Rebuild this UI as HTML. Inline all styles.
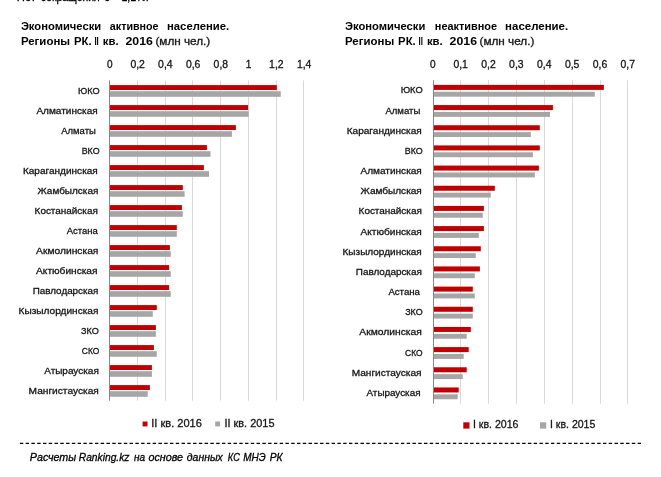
<!DOCTYPE html>
<html lang="ru"><head><meta charset="utf-8"><title>Экономически активное и неактивное население. Регионы РК</title>
<style>html,body{margin:0;padding:0;background:#fff;}body{width:661px;height:477px;overflow:hidden;}svg{display:block;}text{font-family:"Liberation Sans",sans-serif;fill:#141414;stroke:#141414;stroke-width:0.3px;}.b{font-weight:bold;fill:#000;stroke:none;}.i{font-style:italic;fill:#000;stroke:#000;}.k{fill:#000;stroke:#000;}</style></head><body>
<svg width="661" height="477" viewBox="0 0 661 477">
<rect width="661" height="477" fill="#fff"/>
<text x="16.8" y="1.0" font-size="12" textLength="19.2" lengthAdjust="spacingAndGlyphs" class="k">Нет</text>
<text x="40.7" y="1.0" font-size="12" textLength="59.1" lengthAdjust="spacingAndGlyphs" class="k">сокращения</text>
<text x="104.2" y="1.0" font-size="12" textLength="5.6" lengthAdjust="spacingAndGlyphs" class="k">с</text>
<text x="112.0" y="1.0" font-size="12" textLength="7.0" lengthAdjust="spacingAndGlyphs" class="k">—</text>
<text x="121.4" y="1.0" font-size="12" textLength="27.2" lengthAdjust="spacingAndGlyphs" class="k">1,1%.</text>
<text x="20.9" y="30.3" font-size="10.70" textLength="80.3" lengthAdjust="spacingAndGlyphs" class="b">Экономически</text>
<text x="109.8" y="30.3" font-size="10.70" textLength="48.8" lengthAdjust="spacingAndGlyphs" class="b">активное</text>
<text x="167.0" y="30.3" font-size="10.70" textLength="62.2" lengthAdjust="spacingAndGlyphs" class="b">население.</text>
<text x="20.9" y="45.4" font-size="10.70" textLength="49.2" lengthAdjust="spacingAndGlyphs" class="b">Регионы</text>
<text x="74.0" y="45.4" font-size="10.70" textLength="17.6" lengthAdjust="spacingAndGlyphs" class="b">РК.</text>
<text x="94.4" y="45.4" font-size="10.70" textLength="4.4" lengthAdjust="spacingAndGlyphs" class="b">II</text>
<text x="102.8" y="45.4" font-size="10.70" textLength="15.8" lengthAdjust="spacingAndGlyphs" class="b">кв.</text>
<text x="125.5" y="45.4" font-size="10.70" textLength="27.4" lengthAdjust="spacingAndGlyphs" class="b">2016</text>
<text x="155.4" y="45.4" font-size="10.70" textLength="54.9" lengthAdjust="spacingAndGlyphs">(млн чел.)</text>
<text x="345.0" y="30.3" font-size="10.70" textLength="80.3" lengthAdjust="spacingAndGlyphs" class="b">Экономически</text>
<text x="434.8" y="30.3" font-size="10.70" textLength="62.3" lengthAdjust="spacingAndGlyphs" class="b">неактивное</text>
<text x="505.1" y="30.3" font-size="10.70" textLength="63.1" lengthAdjust="spacingAndGlyphs" class="b">население.</text>
<text x="345.0" y="45.4" font-size="10.70" textLength="49.2" lengthAdjust="spacingAndGlyphs" class="b">Регионы</text>
<text x="398.1" y="45.4" font-size="10.70" textLength="17.6" lengthAdjust="spacingAndGlyphs" class="b">РК.</text>
<text x="418.5" y="45.4" font-size="10.70" textLength="4.4" lengthAdjust="spacingAndGlyphs" class="b">II</text>
<text x="426.9" y="45.4" font-size="10.70" textLength="15.8" lengthAdjust="spacingAndGlyphs" class="b">кв.</text>
<text x="449.6" y="45.4" font-size="10.70" textLength="27.4" lengthAdjust="spacingAndGlyphs" class="b">2016</text>
<text x="479.5" y="45.4" font-size="10.70" textLength="54.9" lengthAdjust="spacingAndGlyphs">(млн чел.)</text>
<rect x="137" y="80.40" width="1" height="320.30" fill="#D9D9D9"/>
<rect x="165" y="80.40" width="1" height="320.30" fill="#D9D9D9"/>
<rect x="192" y="80.40" width="1" height="320.30" fill="#D9D9D9"/>
<rect x="220" y="80.40" width="1" height="320.30" fill="#D9D9D9"/>
<rect x="248" y="80.40" width="1" height="320.30" fill="#D9D9D9"/>
<rect x="276" y="80.40" width="1" height="320.30" fill="#D9D9D9"/>
<rect x="303" y="80.40" width="1" height="320.30" fill="#D9D9D9"/>
<text x="107.0" y="67.6" font-size="10.50" textLength="5.6" lengthAdjust="spacingAndGlyphs">0</text>
<text x="130.4" y="67.6" font-size="10.50" textLength="14.5" lengthAdjust="spacingAndGlyphs">0,2</text>
<text x="158.1" y="67.6" font-size="10.50" textLength="14.5" lengthAdjust="spacingAndGlyphs">0,4</text>
<text x="185.9" y="67.6" font-size="10.50" textLength="14.5" lengthAdjust="spacingAndGlyphs">0,6</text>
<text x="213.6" y="67.6" font-size="10.50" textLength="14.5" lengthAdjust="spacingAndGlyphs">0,8</text>
<text x="245.8" y="67.6" font-size="10.50" textLength="5.6" lengthAdjust="spacingAndGlyphs">1</text>
<text x="269.1" y="67.6" font-size="10.50" textLength="14.5" lengthAdjust="spacingAndGlyphs">1,2</text>
<text x="296.9" y="67.6" font-size="10.50" textLength="14.5" lengthAdjust="spacingAndGlyphs">1,4</text>
<rect x="110.00" y="85.10" width="166.80" height="4.90" fill="#C00000"/>
<rect x="110.00" y="91.20" width="170.80" height="5.60" fill="#A6A6A6"/>
<text x="77.9" y="93.9" font-size="9.60" textLength="21.7" lengthAdjust="spacingAndGlyphs">ЮКО</text>
<rect x="110.00" y="105.10" width="138.10" height="4.90" fill="#C00000"/>
<rect x="110.00" y="111.20" width="138.60" height="5.60" fill="#A6A6A6"/>
<text x="36.4" y="113.9" font-size="9.60" textLength="61.3" lengthAdjust="spacingAndGlyphs">Алматинская</text>
<rect x="110.00" y="125.10" width="125.90" height="4.90" fill="#C00000"/>
<rect x="110.00" y="131.20" width="121.90" height="5.60" fill="#A6A6A6"/>
<text x="61.3" y="133.9" font-size="9.60" textLength="34.5" lengthAdjust="spacingAndGlyphs">Алматы</text>
<rect x="110.00" y="145.10" width="96.90" height="4.90" fill="#C00000"/>
<rect x="110.00" y="151.20" width="100.50" height="5.60" fill="#A6A6A6"/>
<text x="81.7" y="153.9" font-size="9.60" textLength="17.9" lengthAdjust="spacingAndGlyphs">ВКО</text>
<rect x="110.00" y="165.10" width="93.90" height="4.90" fill="#C00000"/>
<rect x="110.00" y="171.20" width="99.00" height="5.60" fill="#A6A6A6"/>
<text x="22.9" y="173.9" font-size="9.60" textLength="74.9" lengthAdjust="spacingAndGlyphs">Карагандинская</text>
<rect x="110.00" y="185.10" width="72.80" height="4.90" fill="#C00000"/>
<rect x="110.00" y="191.20" width="74.60" height="5.60" fill="#A6A6A6"/>
<text x="37.5" y="193.9" font-size="9.60" textLength="60.9" lengthAdjust="spacingAndGlyphs">Жамбылская</text>
<rect x="110.00" y="205.10" width="71.90" height="4.90" fill="#C00000"/>
<rect x="110.00" y="211.20" width="72.80" height="5.60" fill="#A6A6A6"/>
<text x="34.6" y="213.9" font-size="9.60" textLength="63.2" lengthAdjust="spacingAndGlyphs">Костанайская</text>
<rect x="110.00" y="225.10" width="66.80" height="4.90" fill="#C00000"/>
<rect x="110.00" y="231.20" width="66.80" height="5.60" fill="#A6A6A6"/>
<text x="66.7" y="233.9" font-size="9.60" textLength="31.1" lengthAdjust="spacingAndGlyphs">Астана</text>
<rect x="110.00" y="245.10" width="59.90" height="4.90" fill="#C00000"/>
<rect x="110.00" y="251.20" width="60.80" height="5.60" fill="#A6A6A6"/>
<text x="36.1" y="253.9" font-size="9.60" textLength="62.3" lengthAdjust="spacingAndGlyphs">Акмолинская</text>
<rect x="110.00" y="265.10" width="59.00" height="4.90" fill="#C00000"/>
<rect x="110.00" y="271.20" width="60.80" height="5.60" fill="#A6A6A6"/>
<text x="36.1" y="273.9" font-size="9.60" textLength="61.4" lengthAdjust="spacingAndGlyphs">Актюбинская</text>
<rect x="110.00" y="285.10" width="59.00" height="4.90" fill="#C00000"/>
<rect x="110.00" y="291.20" width="60.80" height="5.60" fill="#A6A6A6"/>
<text x="32.7" y="293.9" font-size="9.60" textLength="65.7" lengthAdjust="spacingAndGlyphs">Павлодарская</text>
<rect x="110.00" y="305.10" width="46.80" height="4.90" fill="#C00000"/>
<rect x="110.00" y="311.20" width="42.80" height="5.60" fill="#A6A6A6"/>
<text x="18.6" y="313.9" font-size="9.60" textLength="79.8" lengthAdjust="spacingAndGlyphs">Кызылординская</text>
<rect x="110.00" y="325.10" width="45.90" height="4.90" fill="#C00000"/>
<rect x="110.00" y="331.20" width="45.90" height="5.60" fill="#A6A6A6"/>
<text x="81.0" y="333.9" font-size="9.60" textLength="17.8" lengthAdjust="spacingAndGlyphs">ЗКО</text>
<rect x="110.00" y="345.10" width="43.90" height="4.90" fill="#C00000"/>
<rect x="110.00" y="351.20" width="46.80" height="5.60" fill="#A6A6A6"/>
<text x="81.8" y="353.9" font-size="9.60" textLength="17.5" lengthAdjust="spacingAndGlyphs">СКО</text>
<rect x="110.00" y="365.10" width="41.90" height="4.90" fill="#C00000"/>
<rect x="110.00" y="371.20" width="41.90" height="5.60" fill="#A6A6A6"/>
<text x="44.2" y="373.9" font-size="9.60" textLength="54.6" lengthAdjust="spacingAndGlyphs">Атырауская</text>
<rect x="110.00" y="385.10" width="39.90" height="4.90" fill="#C00000"/>
<rect x="110.00" y="391.20" width="37.70" height="5.60" fill="#A6A6A6"/>
<text x="28.6" y="393.9" font-size="9.60" textLength="70.2" lengthAdjust="spacingAndGlyphs">Мангистауская</text>
<rect x="109" y="80.40" width="1" height="320.30" fill="#878787"/>
<rect x="460" y="80.20" width="1" height="323.42" fill="#D9D9D9"/>
<rect x="488" y="80.20" width="1" height="323.42" fill="#D9D9D9"/>
<rect x="516" y="80.20" width="1" height="323.42" fill="#D9D9D9"/>
<rect x="544" y="80.20" width="1" height="323.42" fill="#D9D9D9"/>
<rect x="572" y="80.20" width="1" height="323.42" fill="#D9D9D9"/>
<rect x="600" y="80.20" width="1" height="323.42" fill="#D9D9D9"/>
<rect x="627" y="80.20" width="1" height="323.42" fill="#D9D9D9"/>
<text x="430.0" y="67.6" font-size="10.50" textLength="5.6" lengthAdjust="spacingAndGlyphs">0</text>
<text x="453.4" y="67.6" font-size="10.50" textLength="14.5" lengthAdjust="spacingAndGlyphs">0,1</text>
<text x="481.3" y="67.6" font-size="10.50" textLength="14.5" lengthAdjust="spacingAndGlyphs">0,2</text>
<text x="509.1" y="67.6" font-size="10.50" textLength="14.5" lengthAdjust="spacingAndGlyphs">0,3</text>
<text x="537.0" y="67.6" font-size="10.50" textLength="14.5" lengthAdjust="spacingAndGlyphs">0,4</text>
<text x="564.9" y="67.6" font-size="10.50" textLength="14.5" lengthAdjust="spacingAndGlyphs">0,5</text>
<text x="592.7" y="67.6" font-size="10.50" textLength="14.5" lengthAdjust="spacingAndGlyphs">0,6</text>
<text x="620.5" y="67.6" font-size="10.50" textLength="14.5" lengthAdjust="spacingAndGlyphs">0,7</text>
<rect x="434.00" y="84.90" width="169.90" height="5.00" fill="#C00000"/>
<rect x="434.00" y="91.80" width="160.80" height="4.90" fill="#A6A6A6"/>
<text x="400.7" y="93.4" font-size="9.60" textLength="22.0" lengthAdjust="spacingAndGlyphs">ЮКО</text>
<rect x="434.00" y="105.07" width="118.90" height="5.00" fill="#C00000"/>
<rect x="434.00" y="111.97" width="116.00" height="4.90" fill="#A6A6A6"/>
<text x="385.4" y="113.6" font-size="9.60" textLength="34.9" lengthAdjust="spacingAndGlyphs">Алматы</text>
<rect x="434.00" y="125.24" width="105.80" height="5.00" fill="#C00000"/>
<rect x="434.00" y="132.14" width="96.90" height="4.90" fill="#A6A6A6"/>
<text x="346.7" y="133.7" font-size="9.60" textLength="75.1" lengthAdjust="spacingAndGlyphs">Карагандинская</text>
<rect x="434.00" y="145.41" width="105.80" height="5.00" fill="#C00000"/>
<rect x="434.00" y="152.31" width="98.90" height="4.90" fill="#A6A6A6"/>
<text x="404.8" y="153.9" font-size="9.60" textLength="17.9" lengthAdjust="spacingAndGlyphs">ВКО</text>
<rect x="434.00" y="165.58" width="104.90" height="5.00" fill="#C00000"/>
<rect x="434.00" y="172.48" width="100.90" height="4.90" fill="#A6A6A6"/>
<text x="360.5" y="174.1" font-size="9.60" textLength="61.3" lengthAdjust="spacingAndGlyphs">Алматинская</text>
<rect x="434.00" y="185.75" width="60.80" height="5.00" fill="#C00000"/>
<rect x="434.00" y="192.65" width="56.80" height="4.90" fill="#A6A6A6"/>
<text x="360.5" y="194.2" font-size="9.60" textLength="61.3" lengthAdjust="spacingAndGlyphs">Жамбылская</text>
<rect x="434.00" y="205.92" width="49.90" height="5.00" fill="#C00000"/>
<rect x="434.00" y="212.82" width="48.80" height="4.90" fill="#A6A6A6"/>
<text x="358.6" y="214.4" font-size="9.60" textLength="63.2" lengthAdjust="spacingAndGlyphs">Костанайская</text>
<rect x="434.00" y="226.09" width="49.90" height="5.00" fill="#C00000"/>
<rect x="434.00" y="232.99" width="44.80" height="4.90" fill="#A6A6A6"/>
<text x="360.5" y="234.6" font-size="9.60" textLength="61.3" lengthAdjust="spacingAndGlyphs">Актюбинская</text>
<rect x="434.00" y="246.26" width="46.80" height="5.00" fill="#C00000"/>
<rect x="434.00" y="253.16" width="41.80" height="4.90" fill="#A6A6A6"/>
<text x="342.5" y="254.7" font-size="9.60" textLength="79.3" lengthAdjust="spacingAndGlyphs">Кызылординская</text>
<rect x="434.00" y="266.43" width="45.90" height="5.00" fill="#C00000"/>
<rect x="434.00" y="273.33" width="40.80" height="4.90" fill="#A6A6A6"/>
<text x="355.8" y="274.9" font-size="9.60" textLength="66.0" lengthAdjust="spacingAndGlyphs">Павлодарская</text>
<rect x="434.00" y="286.60" width="38.80" height="5.00" fill="#C00000"/>
<rect x="434.00" y="293.50" width="40.80" height="4.90" fill="#A6A6A6"/>
<text x="388.4" y="295.1" font-size="9.60" textLength="31.5" lengthAdjust="spacingAndGlyphs">Астана</text>
<rect x="434.00" y="306.77" width="38.80" height="5.00" fill="#C00000"/>
<rect x="434.00" y="313.67" width="38.80" height="4.90" fill="#A6A6A6"/>
<text x="405.2" y="315.3" font-size="9.60" textLength="17.5" lengthAdjust="spacingAndGlyphs">ЗКО</text>
<rect x="434.00" y="326.94" width="36.80" height="5.00" fill="#C00000"/>
<rect x="434.00" y="333.84" width="32.70" height="4.90" fill="#A6A6A6"/>
<text x="359.3" y="335.4" font-size="9.60" textLength="62.5" lengthAdjust="spacingAndGlyphs">Акмолинская</text>
<rect x="434.00" y="347.11" width="34.70" height="5.00" fill="#C00000"/>
<rect x="434.00" y="354.01" width="29.70" height="4.90" fill="#A6A6A6"/>
<text x="405.1" y="355.6" font-size="9.60" textLength="17.5" lengthAdjust="spacingAndGlyphs">СКО</text>
<rect x="434.00" y="367.28" width="32.70" height="5.00" fill="#C00000"/>
<rect x="434.00" y="374.18" width="28.70" height="4.90" fill="#A6A6A6"/>
<text x="351.7" y="375.8" font-size="9.60" textLength="69.9" lengthAdjust="spacingAndGlyphs">Мангистауская</text>
<rect x="434.00" y="387.45" width="24.70" height="5.00" fill="#C00000"/>
<rect x="434.00" y="394.35" width="23.70" height="4.90" fill="#A6A6A6"/>
<text x="366.5" y="395.9" font-size="9.60" textLength="54.0" lengthAdjust="spacingAndGlyphs">Атырауская</text>
<rect x="433" y="80.20" width="1" height="323.42" fill="#878787"/>
<rect x="142.6" y="421.5" width="4.9" height="4.9" fill="#C00000"/>
<text x="151.3" y="426.9" font-size="11.00" textLength="50.6" lengthAdjust="spacingAndGlyphs">II кв. 2016</text>
<rect x="215.2" y="421.5" width="4.9" height="4.9" fill="#A6A6A6"/>
<text x="224.4" y="426.9" font-size="11.00" textLength="50.1" lengthAdjust="spacingAndGlyphs">II кв. 2015</text>
<rect x="463.3" y="422.3" width="6.2" height="6.3" fill="#C00000"/>
<text x="473.0" y="427.7" font-size="11.00" textLength="45.5" lengthAdjust="spacingAndGlyphs">I кв. 2016</text>
<rect x="540.0" y="422.3" width="6.2" height="6.3" fill="#A6A6A6"/>
<text x="550.0" y="427.7" font-size="11.00" textLength="45.3" lengthAdjust="spacingAndGlyphs">I кв. 2015</text>
<line x1="19.9" y1="443.3" x2="641" y2="443.3" stroke="#000" stroke-width="1.15" stroke-dasharray="3.4 2.373"/>
<text x="29.8" y="460.7" font-size="10.70" textLength="46.4" lengthAdjust="spacingAndGlyphs" class="i">Расчеты</text>
<text x="78.8" y="460.7" font-size="10.70" textLength="50.6" lengthAdjust="spacingAndGlyphs" class="i">Ranking.kz</text>
<text x="133.9" y="460.7" font-size="10.70" textLength="11.1" lengthAdjust="spacingAndGlyphs" class="i">на</text>
<text x="148.5" y="460.7" font-size="10.70" textLength="34.6" lengthAdjust="spacingAndGlyphs" class="i">основе</text>
<text x="186.8" y="460.7" font-size="10.70" textLength="36.0" lengthAdjust="spacingAndGlyphs" class="i">данных</text>
<text x="227.8" y="460.7" font-size="10.70" textLength="12.0" lengthAdjust="spacingAndGlyphs" class="i">КС</text>
<text x="243.3" y="460.7" font-size="10.70" textLength="22.4" lengthAdjust="spacingAndGlyphs" class="i">МНЭ</text>
<text x="269.7" y="460.7" font-size="10.70" textLength="12.9" lengthAdjust="spacingAndGlyphs" class="i">РК</text>
</svg></body></html>
